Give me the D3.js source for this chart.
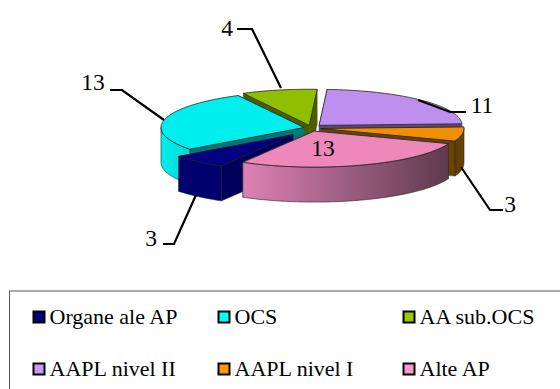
<!DOCTYPE html>
<html><head><meta charset="utf-8">
<script src="https://cdn.jsdelivr.net/npm/d3@7"></script>
<style>html,body{margin:0;padding:0;background:#fff;overflow:hidden}text{font-family:"Liberation Serif",serif;fill:#000}</style>
</head><body><svg id="c" width="560" height="389"></svg>
<script>
const categories = ["Organe ale AP","OCS","AA sub.OCS","AAPL nivel II","AAPL nivel I","Alte AP"];
const values = [3,13,4,11,3,13];
const legendColors = ["#000080","#00ffff","#99cc00","#cc99ff","#ff9900","#ff99cc"];
const topColors = ["#000080","#00eeee","#8fbf00","#bf8ff0","#f09000","#ee88bb"];
const wallStart = ["#00006e","#00eeee","#6d8f00","#8f6bb4","#6b4300","#dc82b4"];
const wallEnd = ["#00006e","#00d8d8","#6d8f00","#8f6bb4","#5f3c00","#5f3a4e"];
const cutColors = ["#00005a","#007878","#4a5e00","#5f4778","#6b4300","#7a445e"];
const explode = [0.19,0.05,0.06,0.08,0.07,0.07];

const W=560,H=389,cx=311,cy=128,rx=143,ry=36,depth=35,liftY=1.3;
const startDeg=210;
const svg=d3.select("#c");
const defs=svg.append("defs");
const arcs=d3.pie().sort(null).startAngle(startDeg*Math.PI/180).endAngle((startDeg+360)*Math.PI/180)(values);
const line=d3.line();

arcs.forEach((a,i)=>{
  const mid=(a.startAngle+a.endAngle)/2;
  a.ax=cx+explode[i]*rx*Math.sin(mid);
  a.ay=cy-explode[i]*ry*liftY*Math.cos(mid);
  a.i=i;
});
const P=(a,t,d=0)=>[a.ax+rx*Math.sin(t),a.ay-ry*Math.cos(t)+d];
const rim=(a,t0,t1,d=0)=>{
  const n=Math.max(2,Math.ceil(Math.abs(t1-t0)/0.02));
  return d3.range(n+1).map(k=>P(a,t0+(t1-t0)*k/n,d));
};
const frontRange=(a)=>{
  const lo=Math.PI/2,hi=3*Math.PI/2;
  for(const sh of [0,2*Math.PI]){
    const s=Math.max(a.startAngle-sh,lo),e=Math.min(a.endAngle-sh,hi);
    if(e>s) return [s,e];
  }
  return null;
};

const paint=[2,1,3,4,0,5];
const g=svg.append("g").attr("stroke-linejoin","round");
paint.forEach(i=>{
  const a=arcs[i];
  const sl=g.append("g");
  [a.startAngle,a.endAngle].forEach(t=>{
    const r=P(a,t),r2=P(a,t,depth);
    sl.append("path").attr("d",line([[a.ax,a.ay],r,r2,[a.ax,a.ay+depth]])+"Z")
      .attr("fill",cutColors[i]).attr("stroke",cutColors[i]).attr("stroke-width",0.5);
  });
  const fr=frontRange(a);
  if(fr){
    const top=rim(a,fr[0],fr[1]),bot=rim(a,fr[1],fr[0],depth);
    const xs=top.map(p=>p[0]);
    const id="w"+i;
    const lg=defs.append("linearGradient").attr("id",id).attr("gradientUnits","userSpaceOnUse")
      .attr("x1",d3.min(xs)).attr("x2",d3.max(xs)).attr("y1",0).attr("y2",0);
    lg.append("stop").attr("offset",0).attr("stop-color",i===4?wallEnd[i]:wallStart[i]);
    lg.append("stop").attr("offset",1).attr("stop-color",i===4?wallStart[i]:wallEnd[i]);
    sl.append("path").attr("d",line(top.concat(bot))+"Z").attr("fill",`url(#${id})`)
      .attr("stroke","#222").attr("stroke-width",0.6);
  }
  sl.append("path").attr("d",line([[a.ax,a.ay]].concat(rim(a,a.startAngle,a.endAngle)))+"Z")
    .attr("fill",topColors[i]).attr("stroke","#222").attr("stroke-width",0.8);
});

const leaders=[
  [[196,195],[174,244],[163,244]],
  [[164,120],[122,90],[110,90]],
  [[281,88],[252,29],[237,29]],
  [[418,100],[450,112],[466,112]],
  [[461,167],[490,210],[503,210]],
  null];
const labelPos=[[151,246],[93,90],[227,36],[482,113],[510,212],[323,156]];
values.forEach((v,i)=>{
  if(leaders[i]) svg.append("path").attr("d",line(leaders[i])).attr("fill","none").attr("stroke","#000").attr("stroke-width",2.2);
  svg.append("text").attr("x",labelPos[i][0]).attr("y",labelPos[i][1]).attr("text-anchor","middle")
    .attr("font-size",23.5).text(v);
});

svg.append("rect").attr("x",9.5).attr("y",291).attr("width",W+20).attr("height",H)
  .attr("fill","#fff").attr("stroke","#555").attr("stroke-width",1);
const colX=d3.scalePoint().domain([0,1,2]).range([33,403]);
const rowY=d3.scalePoint().domain([0,1]).range([311,363]);
const lg=svg.selectAll(".lg").data(categories).join("g").attr("class","lg")
  .attr("transform",(d,i)=>`translate(${colX(i%3)},${rowY(Math.floor(i/3))})`);
lg.append("rect").attr("x",0.5).attr("y",0.5).attr("width",11).attr("height",11)
  .attr("fill",(d,i)=>legendColors[i]).attr("stroke","#000").attr("stroke-width",2);
lg.append("text").attr("x",16.5).attr("y",13).attr("font-size",22).text(d=>d);
</script></body></html>
